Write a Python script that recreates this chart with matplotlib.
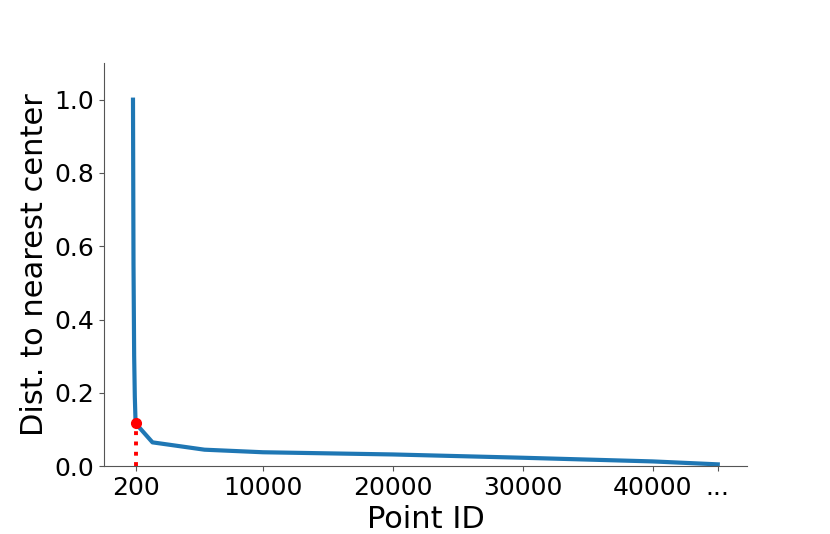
import numpy as np
import matplotlib
matplotlib.use('Agg')
import matplotlib.pyplot as plt

# ==== #
# Data #
# ==== #

point_id = [0, 40, 90, 140, 200, 1500, 5500, 10000, 20000, 30000, 40000, 45000]
dist = [1.0, 0.55, 0.3, 0.19, 0.117, 0.065, 0.045, 0.038, 0.032, 0.023, 0.013, 0.005]

knee_x = 200
knee_y = 0.117

tick_pos = [200, 10000, 20000, 30000, 40000, 45000]
tick_labels = ['200', '10000', '20000', '30000', '40000', '...']
ytick_pos = [0.0, 0.2, 0.4, 0.6, 0.8, 1.0]

# ==== #
# Plot #
# ==== #

fig, ax = plt.subplots(figsize=(8.3, 5.34), dpi=100)
fig.subplots_adjust(left=0.125, right=0.9, top=0.882, bottom=0.127)

ax.plot(point_id, dist, color='#1f77b4', linewidth=3)
ax.plot([knee_x, knee_x], [0, knee_y], color='red', linestyle=':', linewidth=2.8)
ax.plot([knee_x], [knee_y], 'o', color='red', markersize=7)

ax.set_ylim(0, 1.1)
ax.set_xticks(tick_pos)
ax.set_xticklabels(tick_labels)
ax.set_yticks(ytick_pos)
ax.set_yticklabels([f'{v:.1f}' for v in ytick_pos])

ax.tick_params(labelsize=18, color='#555555')
ax.set_xlabel('Point ID', fontsize=22)
ax.set_ylabel('Dist. to nearest center', fontsize=22)

for side in ['top', 'right']:
    ax.spines[side].set_visible(False)
for side in ['left', 'bottom']:
    ax.spines[side].set_color('#555555')

fig.savefig('out.png', dpi=100)
